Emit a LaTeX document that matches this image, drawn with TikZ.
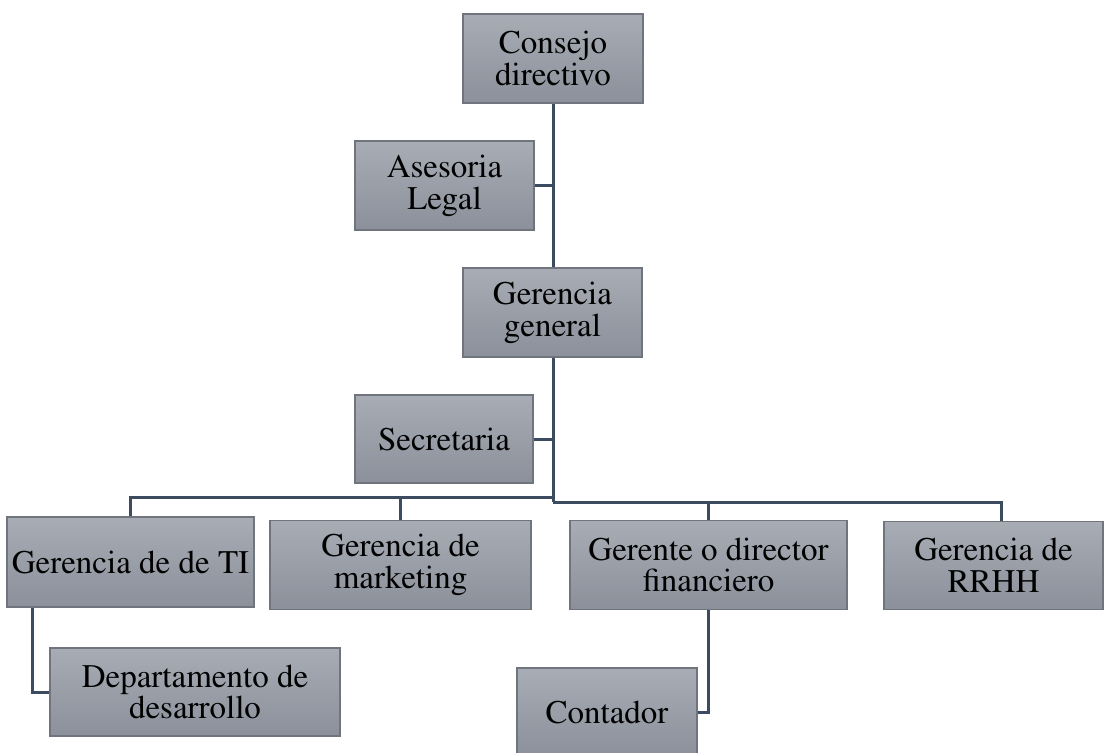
\documentclass[tikz,border=0pt]{standalone}
\usepackage[T1]{fontenc}
\usepackage{mathptmx}
\definecolor{boxtop}{HTML}{A7ACB5}
\definecolor{boxbot}{HTML}{8B909A}
\definecolor{boxline}{HTML}{70757D}
\definecolor{connclr}{HTML}{3D4B60}
\begin{document}
\begin{tikzpicture}[x=0.5pt,y=-0.5pt,
  box/.style={draw=boxline, line width=0.6pt, top color=boxtop, bottom color=boxbot,
    align=center, inner sep=0pt, text=black,
    font=\rmfamily\fontsize{16.5}{15.9}\selectfont},
  conn/.style={draw=connclr, line width=1.5pt, line join=miter}]
\useasboundingbox (0,0) rectangle (1105,752);
\clip (0,0) rectangle (1105,752);

% boxes
\node[box, minimum width=90pt,   minimum height=44.5pt] (consejo)    at (553,58.5)   {Consejo\\directivo};
\node[box, minimum width=89.5pt, minimum height=44.5pt] (asesoria)   at (444.5,185.5) {Asesoria\\Legal};
\node[box, minimum width=89.5pt, minimum height=44.5pt] (gerencia)   at (552.5,312.5) {Gerencia\\general};
\node[box, minimum width=89pt,   minimum height=44pt]   (secretaria) at (444,439)     {Secretaria};
\node[box, minimum width=123.5pt, minimum height=45pt]  (ti)         at (130.5,562)   {Gerencia de de TI};
\node[box, minimum width=130.5pt, minimum height=44.5pt] (mkt)       at (400.5,565)   {Gerencia de\\marketing};
\node[box, minimum width=138.5pt, minimum height=44.5pt] (fin)       at (708.5,565)   {Gerente o director\\financiero};
\node[box, minimum width=109.5pt, minimum height=44pt]  (rrhh)       at (993.5,565.5) {Gerencia de\\RRHH};
\node[box, minimum width=145pt,   minimum height=44pt]  (dep)        at (195,692)     {Departamento de\\desarrollo};
\node[box, minimum width=90pt,    minimum height=44.5pt] (cont)      at (607,712.5)   {Contador};

% junctions of the bus
\coordinate (jL) at (553,497.5);
\coordinate (jR) at (553,502);

% connectors
\draw[conn] (consejo.south) -- (consejo.south |- gerencia.north);
\draw[conn] (asesoria.east) -- (asesoria.east -| consejo.south);
\draw[conn] (jR |- gerencia.south) -- (jR);
\draw[conn] (secretaria.east) -- (secretaria.east -| jR);
\draw[conn] (jL) -| (ti.north);
\draw[conn] (jL) -| (mkt.north);
\draw[conn] (jR) -| (fin.north);
\draw[conn] (jR) -| ([xshift=3.75pt]rrhh.north);
\draw[conn] ([xshift=13pt]ti.south west) |- (dep.west);
\draw[conn] (fin.south) |- (cont.east);
\end{tikzpicture}
\end{document}
